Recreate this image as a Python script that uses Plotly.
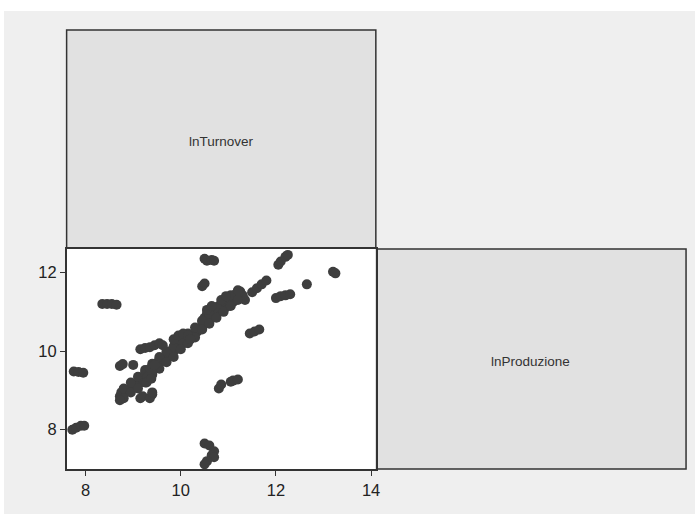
import plotly.graph_objects as go

W, H = 699, 514

var_names = ["lnTurnover", "lnProduzione"]
x_ticks = [8, 10, 12, 14]
y_ticks = [8, 10, 12]

# (lnTurnover on x, lnProduzione on y)
turnover = [
    # main diagonal band - centre
    8.72, 8.75, 8.80, 8.85, 8.90, 8.95, 9.00, 9.05, 9.10, 9.15, 9.20, 9.22, 9.25, 9.30, 9.32, 9.35,
    9.40, 9.42, 9.45, 9.50, 9.55, 9.55, 9.60, 9.65, 9.70, 9.75, 9.80, 9.85, 9.90, 9.95, 10.00, 10.05,
    10.10, 10.15, 10.20, 10.25, 10.30, 10.35, 10.40, 10.45, 10.45, 10.50, 10.50, 10.55, 10.55, 10.60,
    10.60, 10.65, 10.65, 10.70, 10.70, 10.75, 10.80, 10.80, 10.85, 10.90, 10.90, 10.95, 11.00, 11.00,
    11.05, 11.10, 11.10, 11.15, 11.20, 11.25, 11.20, 11.30, 11.30, 11.35,
    # band - upper edge
    8.80, 8.95, 9.10, 9.25, 9.40, 9.55, 9.70, 9.85, 10.00, 10.15, 10.30, 10.45, 10.60, 10.75, 10.90, 11.05, 11.20,
    # band - lower edge
    8.80, 8.95, 9.10, 9.25, 9.40, 9.55, 9.70, 9.85, 10.00, 10.15, 10.30, 10.45, 10.60, 10.75, 10.90, 11.05, 11.20,
    9.25, 9.30, 9.35, 9.40, 9.45, 9.28, 9.38, 10.55, 10.65, 10.85, 10.95,
    # branches
    9.15, 9.25, 9.35, 9.45, 9.55, 9.62, 9.85, 9.95, 10.05, 10.15, 10.20,
    # scattered groups
    10.50, 10.55, 10.65, 10.70,
    10.45, 10.50,
    12.05, 12.10, 12.20, 12.25,
    13.20, 13.25,
    12.65,
    12.00, 12.10, 12.20, 12.30,
    11.50, 11.60, 11.70, 11.80,
    8.35, 8.45, 8.55, 8.65,
    7.75, 7.85, 7.95,
    7.72, 7.80, 7.90, 7.97,
    10.50, 10.60, 10.70, 10.65, 10.70, 10.55, 10.50,
    10.80, 10.85, 11.05, 11.10, 11.20,
    11.45, 11.55, 11.65,
    8.72, 8.78, 9.00,
    9.15, 9.20, 9.40, 9.35, 9.40,
    8.72,
]
produzione = [
    8.85, 8.95, 8.92, 9.00, 9.02, 9.05, 9.10, 9.12, 9.15, 9.20, 9.28, 9.35, 9.30, 9.40, 9.50, 9.45,
    9.55, 9.62, 9.58, 9.70, 9.72, 9.80, 9.78, 9.85, 9.90, 9.92, 9.98, 10.00, 10.05, 10.10, 10.15, 10.20,
    10.22, 10.30, 10.35, 10.38, 10.45, 10.50, 10.55, 10.60, 10.75, 10.70, 10.85, 10.80, 10.95, 10.75,
    10.90, 11.00, 10.85, 10.95, 11.10, 11.05, 11.00, 11.15, 11.10, 11.20, 11.05, 11.25, 11.15, 11.30,
    11.35, 11.25, 11.40, 11.45, 11.50, 11.52, 11.35, 11.42, 11.38, 11.30,
    9.05, 9.20, 9.35, 9.52, 9.68, 9.85, 10.00, 10.12, 10.28, 10.45, 10.60, 10.78, 10.95, 11.12, 11.28, 11.42, 11.55,
    8.80, 8.95, 9.05, 9.20, 9.40, 9.55, 9.72, 9.85, 10.05, 10.20, 10.35, 10.55, 10.70, 10.85, 11.00, 11.15, 11.30,
    9.45, 9.35, 9.55, 9.45, 9.65, 9.20, 9.30, 11.05, 11.15, 11.30, 11.40,
    10.05, 10.08, 10.10, 10.15, 10.20, 10.15, 10.30, 10.40, 10.45, 10.40, 10.30,
    12.35, 12.30, 12.32, 12.30,
    11.65, 11.72,
    12.20, 12.28, 12.40, 12.45,
    12.02, 11.98,
    11.70,
    11.35, 11.40, 11.42, 11.45,
    11.50, 11.60, 11.70, 11.80,
    11.20, 11.20, 11.20, 11.18,
    9.48, 9.47, 9.45,
    8.00, 8.05, 8.10, 8.10,
    7.65, 7.60, 7.45, 7.35, 7.30, 7.20, 7.12,
    9.05, 9.15, 9.22, 9.25, 9.28,
    10.45, 10.50, 10.55,
    9.62, 9.67, 9.65,
    8.80, 8.85, 8.90, 8.80, 8.95,
    8.75,
]

def px(v):
    return v / W

def py(v):
    return 1 - v / H

x_left, x_mid, x_right = 67, 378, 690
y_top, y_mid, y_bot = 30, 249, 469

FONT = "Liberation Sans, Arial, sans-serif"
EDGE = "#333333"

fig = go.Figure()
fig.add_trace(go.Scatter(
    x=turnover, y=produzione, mode="markers",
    marker=dict(size=10, color="#3e3e3e", line=dict(width=0)),
    showlegend=False, hoverinfo="skip",
))

shapes = [
    dict(type="rect", xref="paper", yref="paper", x0=px(4), x1=1.0, y0=0, y1=py(11),
         fillcolor="#efefef", line=dict(width=0), layer="below"),
    dict(type="rect", xref="paper", yref="paper", x0=px(x_left), x1=px(x_mid), y0=py(y_mid), y1=py(y_top),
         fillcolor="#e1e1e1", line=dict(color=EDGE, width=1.5), layer="below"),
    dict(type="rect", xref="paper", yref="paper", x0=px(x_mid), x1=px(x_right), y0=py(y_bot), y1=py(y_mid),
         fillcolor="#e1e1e1", line=dict(color=EDGE, width=1.5), layer="below"),
    dict(type="rect", xref="paper", yref="paper", x0=px(x_left), x1=px(x_mid), y0=py(y_bot), y1=py(y_mid),
         fillcolor="white", line=dict(width=0), layer="below"),
]

annotations = [
    dict(text=var_names[0], xref="paper", yref="paper", x=px((x_left + x_mid) / 2), y=py(141),
         xanchor="center", yanchor="middle",
         showarrow=False, font=dict(family=FONT, size=13.5, color="#333333")),
    dict(text=var_names[1], xref="paper", yref="paper", x=px((x_mid + x_right) / 2), y=py(361),
         xanchor="center", yanchor="middle",
         showarrow=False, font=dict(family=FONT, size=13.5, color="#333333")),
]

fig.update_layout(
    width=W, height=H,
    margin=dict(l=0, r=0, t=0, b=0),
    paper_bgcolor="white",
    plot_bgcolor="rgba(0,0,0,0)",
    shapes=shapes,
    annotations=annotations,
    font=dict(family=FONT, size=16.5, color="#222222"),
    xaxis=dict(domain=[px(x_left), px(x_mid)], range=[7.6, 14.1], tickvals=x_ticks,
               showgrid=False, zeroline=False, showline=True, linecolor=EDGE, linewidth=1.5,
               mirror=True, ticks="outside", ticklen=5, tickcolor=EDGE),
    yaxis=dict(domain=[py(y_bot), py(y_mid)], range=[7.0, 12.6], tickvals=y_ticks,
               showgrid=False, zeroline=False, showline=True, linecolor=EDGE, linewidth=1.5,
               mirror=True, ticks="outside", ticklen=5, tickcolor=EDGE),
)

fig.write_html("out.html", config={"displayModeBar": False},
               post_script="document.body.style.margin='0px';document.body.style.overflow='hidden';")
